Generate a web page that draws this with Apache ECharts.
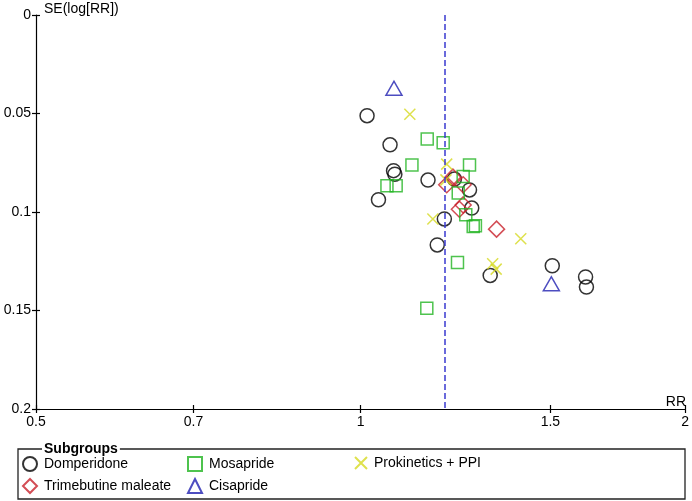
<!DOCTYPE html>
<html>
<head>
	<meta charset="UTF-8" />
	<title>Funnel plot</title>
	<script src="https://cdn.jsdelivr.net/npm/echarts@6/dist/echarts.min.js"></script>
	<style>
		html, body { margin: 0; padding: 0; background: #fff; }
		#chart { width: 692px; height: 501px; }
	</style>
</head>
<body>
	<div id="chart"></div>
	<script type="text/javascript">
		// values: RR and SE(log[RR]) per subgroup
		const domperidoneRR = [1.014, 1.065, 1.073, 1.076, 1.155, 1.039, 1.222, 1.262, 1.268, 1.196, 1.178, 1.319, 1.506, 1.617, 1.62];
		const domperidoneSE = [0.0511, 0.0659, 0.0790, 0.0808, 0.0838, 0.0938, 0.0833, 0.0888, 0.0980, 0.1035, 0.1167, 0.1322, 0.1273, 0.1330, 0.1381];
		const trimebutineRR = [1.218, 1.202, 1.245, 1.235, 1.245, 1.337];
		const trimebutineSE = [0.0823, 0.0862, 0.0862, 0.0986, 0.0964, 0.1087];
		const mosaprideRR = [1.153, 1.193, 1.116, 1.058, 1.079, 1.262, 1.245, 1.232, 1.252, 1.272, 1.278, 1.230, 1.152];
		const mosaprideSE = [0.0629, 0.0648, 0.0761, 0.0867, 0.0867, 0.0761, 0.0820, 0.0904, 0.1014, 0.1074, 0.1070, 0.1256, 0.1488];
		const cisaprideRR = [1.074, 1.503];
		const cisaprideSE = [0.0372, 0.1364];
		const ppiRR = [1.111, 1.202, 1.20, 1.167, 1.408, 1.326, 1.336];
		const ppiSE = [0.0504, 0.0757, 0.0837, 0.1036, 0.1136, 0.1263, 0.1290];

		const pooledRR = 1.197;
		const xTicks = [0.5, 0.7, 1, 1.5, 2];
		const yTicks = [0, 0.05, 0.1, 0.15, 0.2];

		const FONT = '"Liberation Sans", Arial, sans-serif';
		const INK = '#000';
		const chart = echarts.init(document.getElementById("chart"));

		function pts(rr, se) { // x on log scale
			return rr.map((v, i) => [Math.log(v), se[i]]);
		}
		function hollow(name, rr, se, symbol, size, color) {
			return {
				name: name, type: 'scatter', data: pts(rr, se),
				symbol: symbol, symbolSize: size,
				itemStyle: { color: 'rgba(0,0,0,0)', borderColor: color, borderWidth: 1.5 },
				emphasis: { disabled: true }
			};
		}

		const xMin = Math.log(xTicks[0]), xMax = Math.log(xTicks[xTicks.length - 1]);
		const xLog = xTicks.map(v => Math.log(v));
		const xFmt = v => String(parseFloat(Math.exp(v).toFixed(3)));

		const baseX = {
			type: 'value', min: xMin, max: xMax, position: 'bottom',
			splitLine: { show: false },
			axisLine: { onZero: false, lineStyle: { color: INK, width: 1.2 } },
			axisTick: { customValues: xLog, length: 4, lineStyle: { color: INK, width: 1.2 } },
			axisLabel: { customValues: xLog, formatter: xFmt, fontSize: 14, color: INK, fontFamily: FONT, margin: 6 }
		};
		const baseY = {
			type: 'value', inverse: true, min: yTicks[0], max: yTicks[yTicks.length - 1], interval: 0.05,
			position: 'left',
			splitLine: { show: false },
			axisLine: { onZero: false, lineStyle: { color: INK, width: 1.2 } },
			axisTick: { length: 4, lineStyle: { color: INK, width: 1.2 } },
			axisLabel: { fontSize: 14, color: INK, fontFamily: FONT, margin: 5 }
		};

		const lgText = { fontSize: 14, color: INK, fontFamily: FONT, padding: [0, 0, 0, 2] };
		const lgBase = { orient: 'vertical', top: 456, itemWidth: 14, itemHeight: 14, itemGap: 6, padding: 0, selectedMode: false, textStyle: lgText };

		const option = {
			animation: false,
			title: { text: 'SE(log[RR])', left: 44, top: 2, padding: 0, textStyle: { fontSize: 14, fontWeight: 'normal', color: INK, fontFamily: FONT } },
			grid: { left: 36, right: 6, top: 15, bottom: 92 },
			xAxis: [
				baseX,
				Object.assign({}, baseX, { axisLine: { show: false, onZero: false }, axisLabel: { show: false, customValues: xLog }, axisTick: Object.assign({}, baseX.axisTick, { inside: true }) })
			],
			yAxis: [
				baseY,
				Object.assign({}, baseY, { axisLine: { show: false, onZero: false }, axisLabel: { show: false }, axisTick: Object.assign({}, baseY.axisTick, { inside: true }) })
			],
			legend: [
				Object.assign({}, lgBase, { left: 22, data: ['Domperidone', 'Trimebutine maleate'] }),
				Object.assign({}, lgBase, { left: 187, data: ['Mosapride', 'Cisapride'] }),
				Object.assign({}, lgBase, { left: 354, itemWidth: 12, itemHeight: 12, data: ['Prokinetics + PPI'] })
			],
			graphic: [
				{ type: 'rect', shape: { x: 18, y: 449, width: 667, height: 50 }, style: { fill: 'none', stroke: '#222', lineWidth: 1.3 } },
				{ type: 'text', style: { x: 42, y: 449, text: 'Subgroups', font: 'bold 14px ' + FONT, fill: INK, verticalAlign: 'middle', backgroundColor: '#fff', padding: [0, 2] } },
				{ type: 'text', style: { x: 686, y: 402, text: 'RR', font: '14px ' + FONT, fill: INK, align: 'right', verticalAlign: 'middle' } }
			],
			series: [
				Object.assign(hollow('Domperidone', domperidoneRR, domperidoneSE, 'circle', 14, '#000'), {
					markLine: {
						silent: true, symbol: 'none', label: { show: false },
						lineStyle: { type: [6, 3], color: '#3a3ad0', width: 1.5 },
						data: [{ xAxis: Math.log(pooledRR) }]
					}
				}),
				hollow('Trimebutine maleate', trimebutineRR, trimebutineSE, 'diamond', 16, '#c8202a'),
				hollow('Mosapride', mosaprideRR, mosaprideSE, 'rect', 12, '#22b422'),
				hollow('Cisapride', cisaprideRR, cisaprideSE, 'triangle', [16, 14], '#2020b0'),
				hollow('Prokinetics + PPI', ppiRR, ppiSE, 'path://M0,0L10,10M0,10L10,0', 11, '#d6da20')
			]
		};
		chart.setOption(option);
	</script>
</body>
</html>
